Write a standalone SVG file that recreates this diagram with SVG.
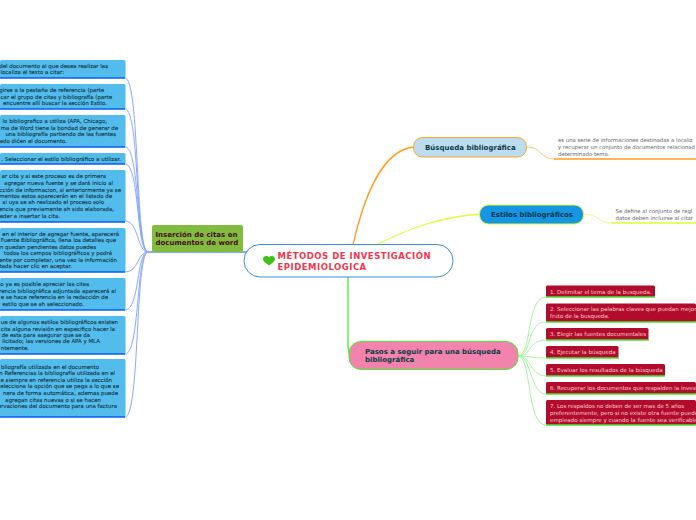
<svg xmlns="http://www.w3.org/2000/svg" width="696" height="520" viewBox="0 0 696 520">
<style>
text{font-family:"DejaVu Sans",Verdana,sans-serif}
.b rect{fill:#52bcec}
.s{font-size:5.45px;fill:#14323f;stroke:#14323f;stroke-width:.1;text-anchor:end}
.r rect{fill:#b20b2c}
.r text{font-size:5.55px;fill:#f6cdd4}
.c{fill:none}
.bl{stroke:#8aa8ff;stroke-width:1}
.bu{stroke:#0a5cf0;stroke-width:1.3}
.gl{stroke:#a6f7a0;stroke-width:1}
.gu{stroke:#3fe82a;stroke-width:1.3}
.h{font-weight:700;font-size:7px;fill:#0d3a45}
.n{font-size:5.35px;fill:#666}
.t{font-size:8.500px;font-weight:700;fill:#f4364c;letter-spacing:.5px}
</style>
<rect width="696" height="520" fill="#fff"/>
<g id="connectors" class="c">
<path class="bl c" d="M148 252C135 252 140 78 125 78"/>
<path class="bl c" d="M148 252C135 252 140 109 125 109"/>
<path class="bl c" d="M148 252C136 252 140 147 125 147"/>
<path class="bl c" d="M148 252C136 252 140 164 125 164"/>
<path class="bl c" d="M148 252C137 252 139 221 125 221"/>
<path class="bl c" d="M148 252C137 252 139 272 125 272"/>
<path class="bl c" d="M148 252C136 252 140 310 125 310"/>
<path class="bl c" d="M148 252C136 252 140 354 125 354"/>
<path class="bl c" d="M148 252C135 252 140 417 125 417"/>
<path class="c" stroke="#0a5cf0" stroke-width="1.2" d="M148 252H250"/>
<path class="c" stroke="#ff9d1f" stroke-width="1.3" d="M353 245C362 205 380 150 414 147"/>
<path class="c" stroke="#dcff3c" stroke-width="1.3" d="M376 245C410 228 440 217 480 214"/>
<path class="c" stroke="#42f02a" stroke-width="1.3" d="M348 277V345C348 352 350 356 352 358"/>
<path class="c" stroke="#ffc56e" stroke-width="1" d="M527 147C542 147 540 159 554 159"/>
<path class="c" stroke="#e6ff80" stroke-width="1" d="M584 214C598 214 598 223 612 223"/>
<path class="c" stroke="#ff9d1f" stroke-width="1.3" d="M554 159H696"/>
<path class="c" stroke="#d8ff30" stroke-width="1.3" d="M612 223H696"/>
<path class="gl c" d="M518 356C532 356 526 297 546 297"/>
<path class="gl c" d="M518 356C532 356 526 322 546 322"/>
<path class="gl c" d="M518 356C532 356 528 340 546 340"/>
<path class="gl c" d="M518 356C530 356 530 358 546 358"/>
<path class="gl c" d="M518 356C532 356 530 376 546 376"/>
<path class="gl c" d="M518 356C532 356 530 394 546 394"/>
<path class="gl c" d="M518 356C532 356 526 425 546 425"/>
</g>
<g id="n1" class="b"><rect x="0" y="60" width="125.500" height="18" rx="1.500"/><path class="bu c" d="M0 78H125"/><text class="s" x="108" y="67.500">del documento al que desea realizar las</text><text class="s" x="64" y="73.500">localiza el texto a citar:</text></g>
<g id="n2" class="b"><rect x="0" y="84" width="125.500" height="25" rx="1.500"/><path class="bu c" d="M0 109H125"/><text class="s" x="104" y="92">girse a la pestaña de referencia (parte</text><text class="s" x="112" y="99">car el grupo de citas y bibliografía (parte</text><text class="s" x="107" y="105">encuentre allí buscar la sección Estilo.</text></g>
<g id="n3" class="b"><rect x="0" y="115" width="125.500" height="32" rx="1.500"/><path class="bu c" d="M0 147H125"/><text class="s" x="107" y="123">lo bibliografico a utiliza (APA, Chicago,</text><text class="s" x="118" y="129.500">ma de Word tiene la bondad de generar de</text><text class="s" x="116" y="136">una bibliografía partiendo  de las fuentes</text><text class="s" x="67" y="143">ado dićen el documento.</text></g>
<g id="n4" class="b"><rect x="0" y="153" width="125.500" height="11" rx="1.500"/><path class="bu c" d="M0 164H125"/><text class="s" x="121" y="160.500">. Seleccionar el estilo bibliográfico a utilizar.</text></g>
<g id="n5" class="b"><rect x="0" y="170" width="125.500" height="52" rx="1.500"/><path class="bu c" d="M0 222H125"/><text class="s" x="106" y="178">ar cita y si este proceso es de primera</text><text class="s" x="113" y="184.500">agregar nueva fuente y se dará inicio al</text><text class="s" x="121" y="191.500">cción de informacion, si anteriormente ya se</text><text class="s" x="112" y="197.500">mentos estos aparecerán en el listado de</text><text class="s" x="104" y="204">si uya se ah realizado el proceso solo</text><text class="s" x="114" y="210.500">encia que previamente ah sido elaborada,</text><text class="s" x="60" y="217.500">eder a insertar la cita.</text></g>
<g id="n6" class="b"><rect x="0" y="228" width="125.500" height="44" rx="1.500"/><path class="bu c" d="M0 272H125"/><text class="s" x="119" y="235.500">en el interior de agregar fuente, aparecerá</text><text class="s" x="116" y="242">Fuente Bibliográfica, llena los detalles que</text><text class="s" x="96" y="249">n  quedan pendientes datos puedes</text><text class="s" x="112" y="255">todos los campos bibliográficos y podrá</text><text class="s" x="117" y="261.500">ente por completar, una vez la información</text><text class="s" x="72" y="268">tada hacer clic en aceptar.</text></g>
<g id="n7" class="b"><rect x="0" y="278" width="125.500" height="32" rx="1.500"/><path class="bu c" d="M0 310H125"/><text class="s" x="89" y="286">o ya es posible apreciar las citas</text><text class="s" x="116" y="292.500">rencia bibliográfica adjuntada aparecerá al</text><text class="s" x="108" y="299">e se hace referencia en la redacción de</text><text class="s" x="84" y="306">estilo que se ah seleccionado.</text></g>
<g id="n8" class="b"><rect x="0" y="316" width="125.500" height="38" rx="1.500"/><path class="bu c" d="M0 354H125"/><text class="s" x="118" y="324">ue de algunos estilos bibliográficos existen</text><text class="s" x="115" y="330.500">cita alguna revisión en especifico hacer la</text><text class="s" x="90" y="337">de esta para asegurar que se da</text><text class="s" x="100" y="343">licitado; las versiones de APA y MLA</text><text class="s" x="29" y="350">ntemente.</text></g>
<g id="n9" class="b"><rect x="0" y="359" width="125.500" height="58" rx="1.500"/><path class="bu c" d="M0 417H125"/><text class="s" x="99" y="368.500">bliografía utilizada en el documento</text><text class="s" x="115" y="374.500">n Referencias la bibliografía utilizada en el</text><text class="s" x="112" y="381.500">e siempre en referencia utiliza la sección</text><text class="s" x="119" y="388">elecciona la opción que se pega a lo que se</text><text class="s" x="118" y="395">nera de forma automática, ademas puede</text><text class="s" x="101" y="401.500">agregan citas nuevas o si se hacen</text><text class="s" x="117" y="408">ervaciones del documento para una factura</text></g>
<g id="insercion"><rect x="152" y="225" width="91" height="27" rx="2" fill="#82bc3f"/><text x="155.500" y="237" font-size="7" font-weight="700" fill="#4a0a1e">Inserción de citas en</text><text x="155.500" y="245" font-size="7" font-weight="700" fill="#4a0a1e">documentos de word</text></g>
<g id="central"><rect x="244" y="244.500" width="209" height="32.500" rx="16" fill="#fff" stroke="#3a8fd6" stroke-width="1"/><path d="M269 265.500C265 262.500 263 261 263 259C263 256 267 255 269 257.500C271 255 275 256 275 259C275 261 273 262.500 269 265.500Z" fill="#3fc01c"/><text class="t" x="277.500" y="259">MÉTODOS DE INVESTIGACIÓN</text><text class="t" x="277.500" y="270">EPIDEMIOLOGICA</text></g>
<g id="busqueda"><rect x="413.500" y="137.500" width="113" height="19.500" rx="9" fill="#bcdcf0" stroke="#ffa526" stroke-width="1"/><text class="h" x="425" y="149.500">Búsqueda bibliográfica</text></g>
<g id="busqueda-nota"><text class="n" x="558" y="142">es una serie de informaciones destinadas a localiz</text><text class="n" x="558" y="149">y recuperar un conjunto de documentos relacionad</text><text class="n" x="558" y="155.500">determinado tema.</text></g>
<g id="estilos"><rect x="479.500" y="205" width="104" height="19" rx="9" fill="#1595e4" stroke="#d8ff30" stroke-width="1"/><text class="h" x="491" y="217">Estilos bibliográficos</text></g>
<g id="estilos-nota"><text class="n" x="615.500" y="213">Se define al conjunto de regl</text><text class="n" x="615.500" y="220">datos deben incluirse al citar</text></g>
<g id="pasos"><rect x="349" y="341.500" width="169" height="28" rx="12" fill="#f283ac" stroke="#42f02a" stroke-width="1"/><text class="h" x="365" y="353.500">Pasos a seguir para una búsqueda</text><text class="h" x="365" y="362">bibliográfica</text></g>
<g id="p1" class="r"><rect x="546" y="285.500" width="109" height="11.500" rx="1.500"/><path class="gu c" d="M546 297H655"/><text x="550" y="293.500">1. Delimitar el tema de la busqueda.</text></g>
<g id="p2" class="r"><rect x="546" y="303.500" width="150" height="18.500" rx="1.500"/><path class="gu c" d="M546 322H696"/><text x="550" y="311">2. Seleccionar las palabras claves que puedan mejor</text><text x="550" y="318">fruto de la busqueda.</text></g>
<g id="p3" class="r"><rect x="546" y="328" width="102.500" height="12" rx="1.500"/><path class="gu c" d="M546 340H649"/><text x="550" y="336">3. Elegir las fuentes documentales</text></g>
<g id="p4" class="r"><rect x="546" y="346" width="72.500" height="12" rx="1.500"/><path class="gu c" d="M546 358H619"/><text x="550" y="354">4. Ejecutar la búsqueda</text></g>
<g id="p5" class="r"><rect x="546" y="364" width="119" height="12" rx="1.500"/><path class="gu c" d="M546 376H665"/><text x="550" y="372">5. Evaluar los resultados de la búsqueda</text></g>
<g id="p6" class="r"><rect x="546" y="382" width="150" height="12" rx="1.500"/><path class="gu c" d="M546 394H696"/><text x="550" y="390">6. Recuperar los documentos que respalden la invest</text></g>
<g id="p7" class="r"><rect x="546" y="400" width="150" height="25" rx="1.500"/><path class="gu c" d="M546 425H696"/><text x="550" y="408">7. Los respaldos no deben de ser mas de 5 años</text><text x="550" y="415">preferentemente, pero si no existe otra fuente puede</text><text x="550" y="421.500">empleado siempre y cuando la fuente sea verificable.</text></g>
</svg>
